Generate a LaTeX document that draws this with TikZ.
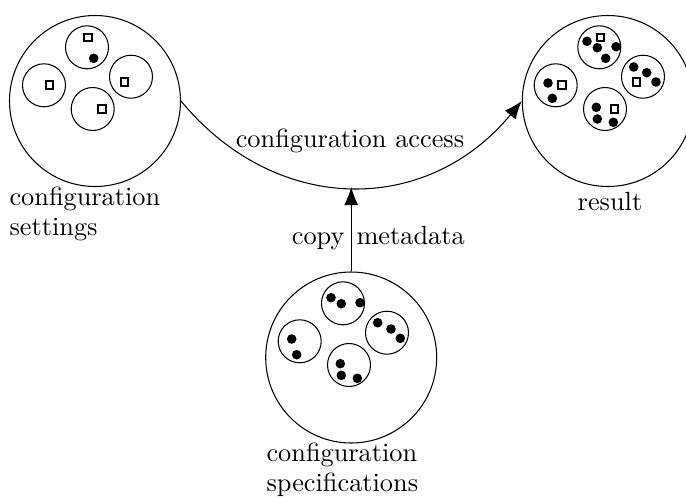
\documentclass[tikz,border=0pt]{standalone}
\usetikzlibrary{arrows.meta}
\tikzset{
  x=0.38pt,y=-0.38pt,
  big/.style={circle,draw,line width=0.4pt,inner sep=0pt,minimum size=171*0.38pt},
  small/.style={circle,draw,line width=0.4pt,inner sep=0pt,minimum size=43*0.38pt},
  sq/.style={rectangle,draw,line width=0.75pt,inner sep=0pt,minimum size=7.4*0.38pt},
  dot/.style={circle,fill=black,inner sep=0pt,minimum size=9.6*0.38pt},
  lab/.style={inner sep=0pt,align=left},
  conn/.style={line width=0.4pt,-{Latex[length=18*0.38pt,width=14*0.38pt]}}
}
\begin{document}
\begin{tikzpicture}
\useasboundingbox (0,0) rectangle (686,496);
% left
\node[big] (L) at (95,101) {};
\node[small] (L1) at (87,47.3) {};
\node[small] (L2) at (131,76.7) {};
\node[small] (L3) at (44,85.3) {};
\node[small] (L4) at (92.7,109) {};
\node[sq] (La) at (88,37.3) {};
\node[dot] (Lb) at (93.7,58.3) {};
\node[sq] (Lc) at (124.3,82) {};
\node[sq] (Ld) at (49.7,85) {};
\node[sq] (Le) at (102,109) {};
% right
\node[big] (R) at (607.8,101) {};
\node[small] (R1) at (599.3,47.3) {};
\node[small] (R2) at (643,76.7) {};
\node[small] (R3) at (555.7,85.3) {};
\node[small] (R4) at (605,109) {};
\node[dot] (Ra) at (587,41.3) {};
\node[dot] (Rb) at (597.3,47.7) {};
\node[dot] (Rc) at (616,46.7) {};
\node[dot] (Rd) at (605.7,58.3) {};
\node[sq] (Re) at (600.3,37.3) {};
\node[dot] (Rf) at (633.7,67) {};
\node[dot] (Rg) at (646.7,72.7) {};
\node[dot] (Rh) at (656,82) {};
\node[sq] (Ri) at (636.3,82) {};
\node[dot] (Rj) at (548,83) {};
\node[dot] (Rk) at (552.3,98.3) {};
\node[sq] (Rl) at (562,85) {};
\node[dot] (Rm) at (596.3,107.3) {};
\node[dot] (Rn) at (597.3,119) {};
\node[dot] (Ro) at (613.3,122.3) {};
\node[sq] (Rp) at (614.3,109) {};
% bottom
\node[big] (B) at (351.2,357.5) {};
\node[small] (B1) at (343,303.3) {};
\node[small] (B2) at (387,332.7) {};
\node[small] (B3) at (299.7,341.3) {};
\node[small] (B4) at (349,365) {};
\node[dot] (Ba) at (331,297.7) {};
\node[dot] (Bb) at (341.3,303.7) {};
\node[dot] (Bc) at (360,302.7) {};
\node[dot] (Bd) at (377.7,322.7) {};
\node[dot] (Be) at (391,329) {};
\node[dot] (Bf) at (400.3,338.3) {};
\node[dot] (Bg) at (291.7,339) {};
\node[dot] (Bh) at (296.7,354.7) {};
\node[dot] (Bi) at (340.3,363.7) {};
\node[dot] (Bj) at (341.3,375.3) {};
\node[dot] (Bk) at (357.3,378.3) {};
% connectors
\coordinate (M) at (351.2,187);
\draw[conn] (L.east) .. controls (276,216) and (427,216) .. (R.west);
\draw[conn] (B.north) -- (M);
% labels
\node[lab,anchor=base] (t1) at (350,147.3) {configuration access};
\node[lab,anchor=base east] (t2) at (345,244) {copy};
\node[lab,anchor=base west] (t3) at (356,244) {metadata};
\node[lab,anchor=base west] (t4) at (9,205) {configuration};
\node[lab,anchor=base west] (t5) at (9,235.8) {settings};
\node[lab,anchor=base] (t6) at (610,210) {result};
\node[lab,anchor=base west] (t7) at (266,461) {configuration};
\node[lab,anchor=base west] (t8) at (266,491.7) {specifications};
\end{tikzpicture}
\end{document}
